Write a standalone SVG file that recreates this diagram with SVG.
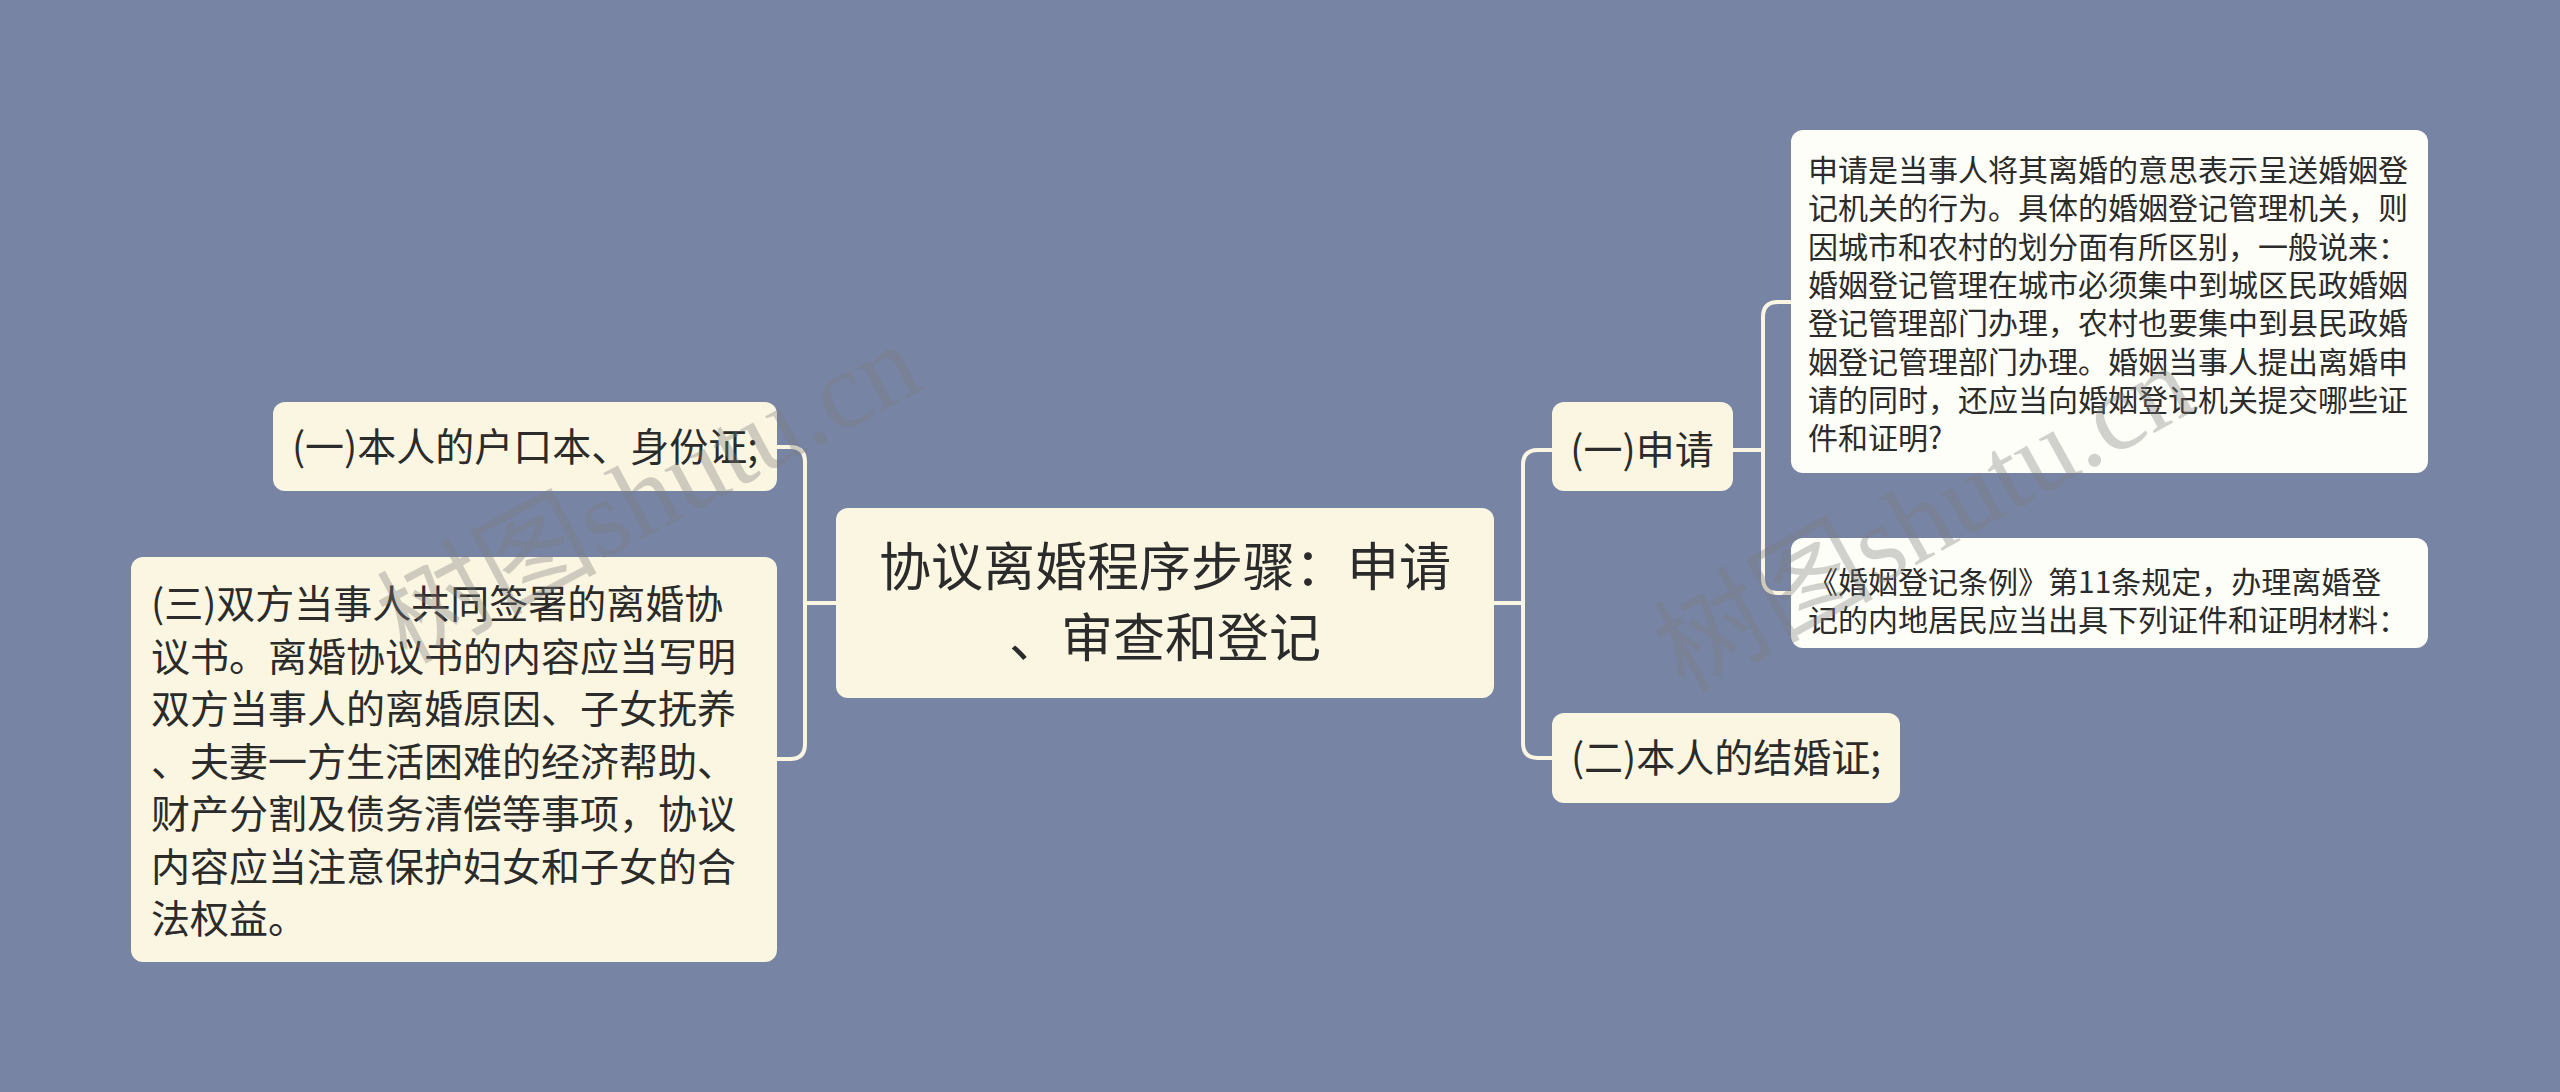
<svg xmlns="http://www.w3.org/2000/svg" width="2560" height="1092" viewBox="0 0 2560 1092">
<style>
  .bg { fill: #7784a4; }
  .node { fill: #faf6e2; }
  .detail { fill: #fefef8; }
  .t { font-family: "Noto Sans CJK SC", "Noto Sans", sans-serif; fill: #2b2b2b; }
  .root { font-size: 52px; }
  .lv1 { font-size: 39px; }
  .lv2 { font-size: 30px; }
  .link { fill: none; stroke: #faf6e2; stroke-width: 4; }
  .wm { font-family: "Liberation Serif", "Noto Sans CJK SC", serif; font-size: 110px; fill: #7a7a7a; fill-opacity: 0.35; }
</style>
<rect class="bg" x="0" y="0" width="2560" height="1092"/>

<g id="connectors">
  <path class="link" d="M836,603 H805 V462 Q805,447 790,447 H777"/>
  <path class="link" d="M836,603 H805 V744 Q805,759 790,759 H777"/>
  <path class="link" d="M1494,603 H1523 V465 Q1523,450 1538,450 H1552"/>
  <path class="link" d="M1494,603 H1523 V743 Q1523,758 1538,758 H1552"/>
  <path class="link" d="M1733,450 H1763 V317 Q1763,302 1778,302 H1791"/>
  <path class="link" d="M1733,450 H1763 V578 Q1763,593 1778,593 H1791"/>
</g>

<g id="root">
  <rect class="node" x="836" y="508" width="658" height="190" rx="12"/>
  <text class="t root" x="1165" y="586" text-anchor="middle">协议离婚程序步骤：申请</text>
  <text class="t root" x="1165" y="657" text-anchor="middle">、审查和登记</text>
</g>

<g id="left1">
  <rect class="node" x="273" y="402" width="504" height="89" rx="12"/>
  <text class="t lv1" x="525" y="461" text-anchor="middle">(一)本人的户口本、身份证;</text>
</g>

<g id="left3">
  <rect class="node" x="131" y="557" width="646" height="405" rx="12"/>
  <text class="t lv1" x="151" y="618">(三)双方当事人共同签署的离婚协</text>
  <text class="t lv1" x="151" y="670.5">议书。离婚协议书的内容应当写明</text>
  <text class="t lv1" x="151" y="723">双方当事人的离婚原因、子女抚养</text>
  <text class="t lv1" x="151" y="775.5">、夫妻一方生活困难的经济帮助、</text>
  <text class="t lv1" x="151" y="828">财产分割及债务清偿等事项，协议</text>
  <text class="t lv1" x="151" y="880.5">内容应当注意保护妇女和子女的合</text>
  <text class="t lv1" x="151" y="933">法权益。</text>
</g>

<g id="right1">
  <rect class="node" x="1552" y="402" width="181" height="89" rx="12"/>
  <text class="t lv1" x="1642" y="464" text-anchor="middle">(一)申请</text>
</g>

<g id="right2">
  <rect class="node" x="1552" y="713" width="348" height="90" rx="12"/>
  <text class="t lv1" x="1726" y="772" text-anchor="middle">(二)本人的结婚证;</text>
</g>

<g id="detail1">
  <rect class="detail" x="1791" y="130" width="637" height="343" rx="12"/>
  <text class="t lv2" x="1808" y="181">申请是当事人将其离婚的意思表示呈送婚姻登</text>
  <text class="t lv2" x="1808" y="219.3">记机关的行为。具体的婚姻登记管理机关，则</text>
  <text class="t lv2" x="1808" y="257.6">因城市和农村的划分面有所区别，一般说来：</text>
  <text class="t lv2" x="1808" y="295.9">婚姻登记管理在城市必须集中到城区民政婚姻</text>
  <text class="t lv2" x="1808" y="334.2">登记管理部门办理，农村也要集中到县民政婚</text>
  <text class="t lv2" x="1808" y="372.5">姻登记管理部门办理。婚姻当事人提出离婚申</text>
  <text class="t lv2" x="1808" y="410.8">请的同时，还应当向婚姻登记机关提交哪些证</text>
  <text class="t lv2" x="1808" y="449.1">件和证明?</text>
</g>

<g id="detail2">
  <rect class="detail" x="1791" y="538" width="637" height="110" rx="12"/>
  <text class="t lv2" x="1808" y="593">《婚姻登记条例》第11条规定，办理离婚登</text>
  <text class="t lv2" x="1808" y="631">记的内地居民应当出具下列证件和证明材料：</text>
</g>

<g id="watermarks">
  <text class="wm" x="650" y="530" text-anchor="middle" transform="rotate(-28 650 495)">树图shutu.cn</text>
  <text class="wm" x="1925" y="555" text-anchor="middle" transform="rotate(-29 1925 520)">树图shutu.cn</text>
</g>
</svg>
